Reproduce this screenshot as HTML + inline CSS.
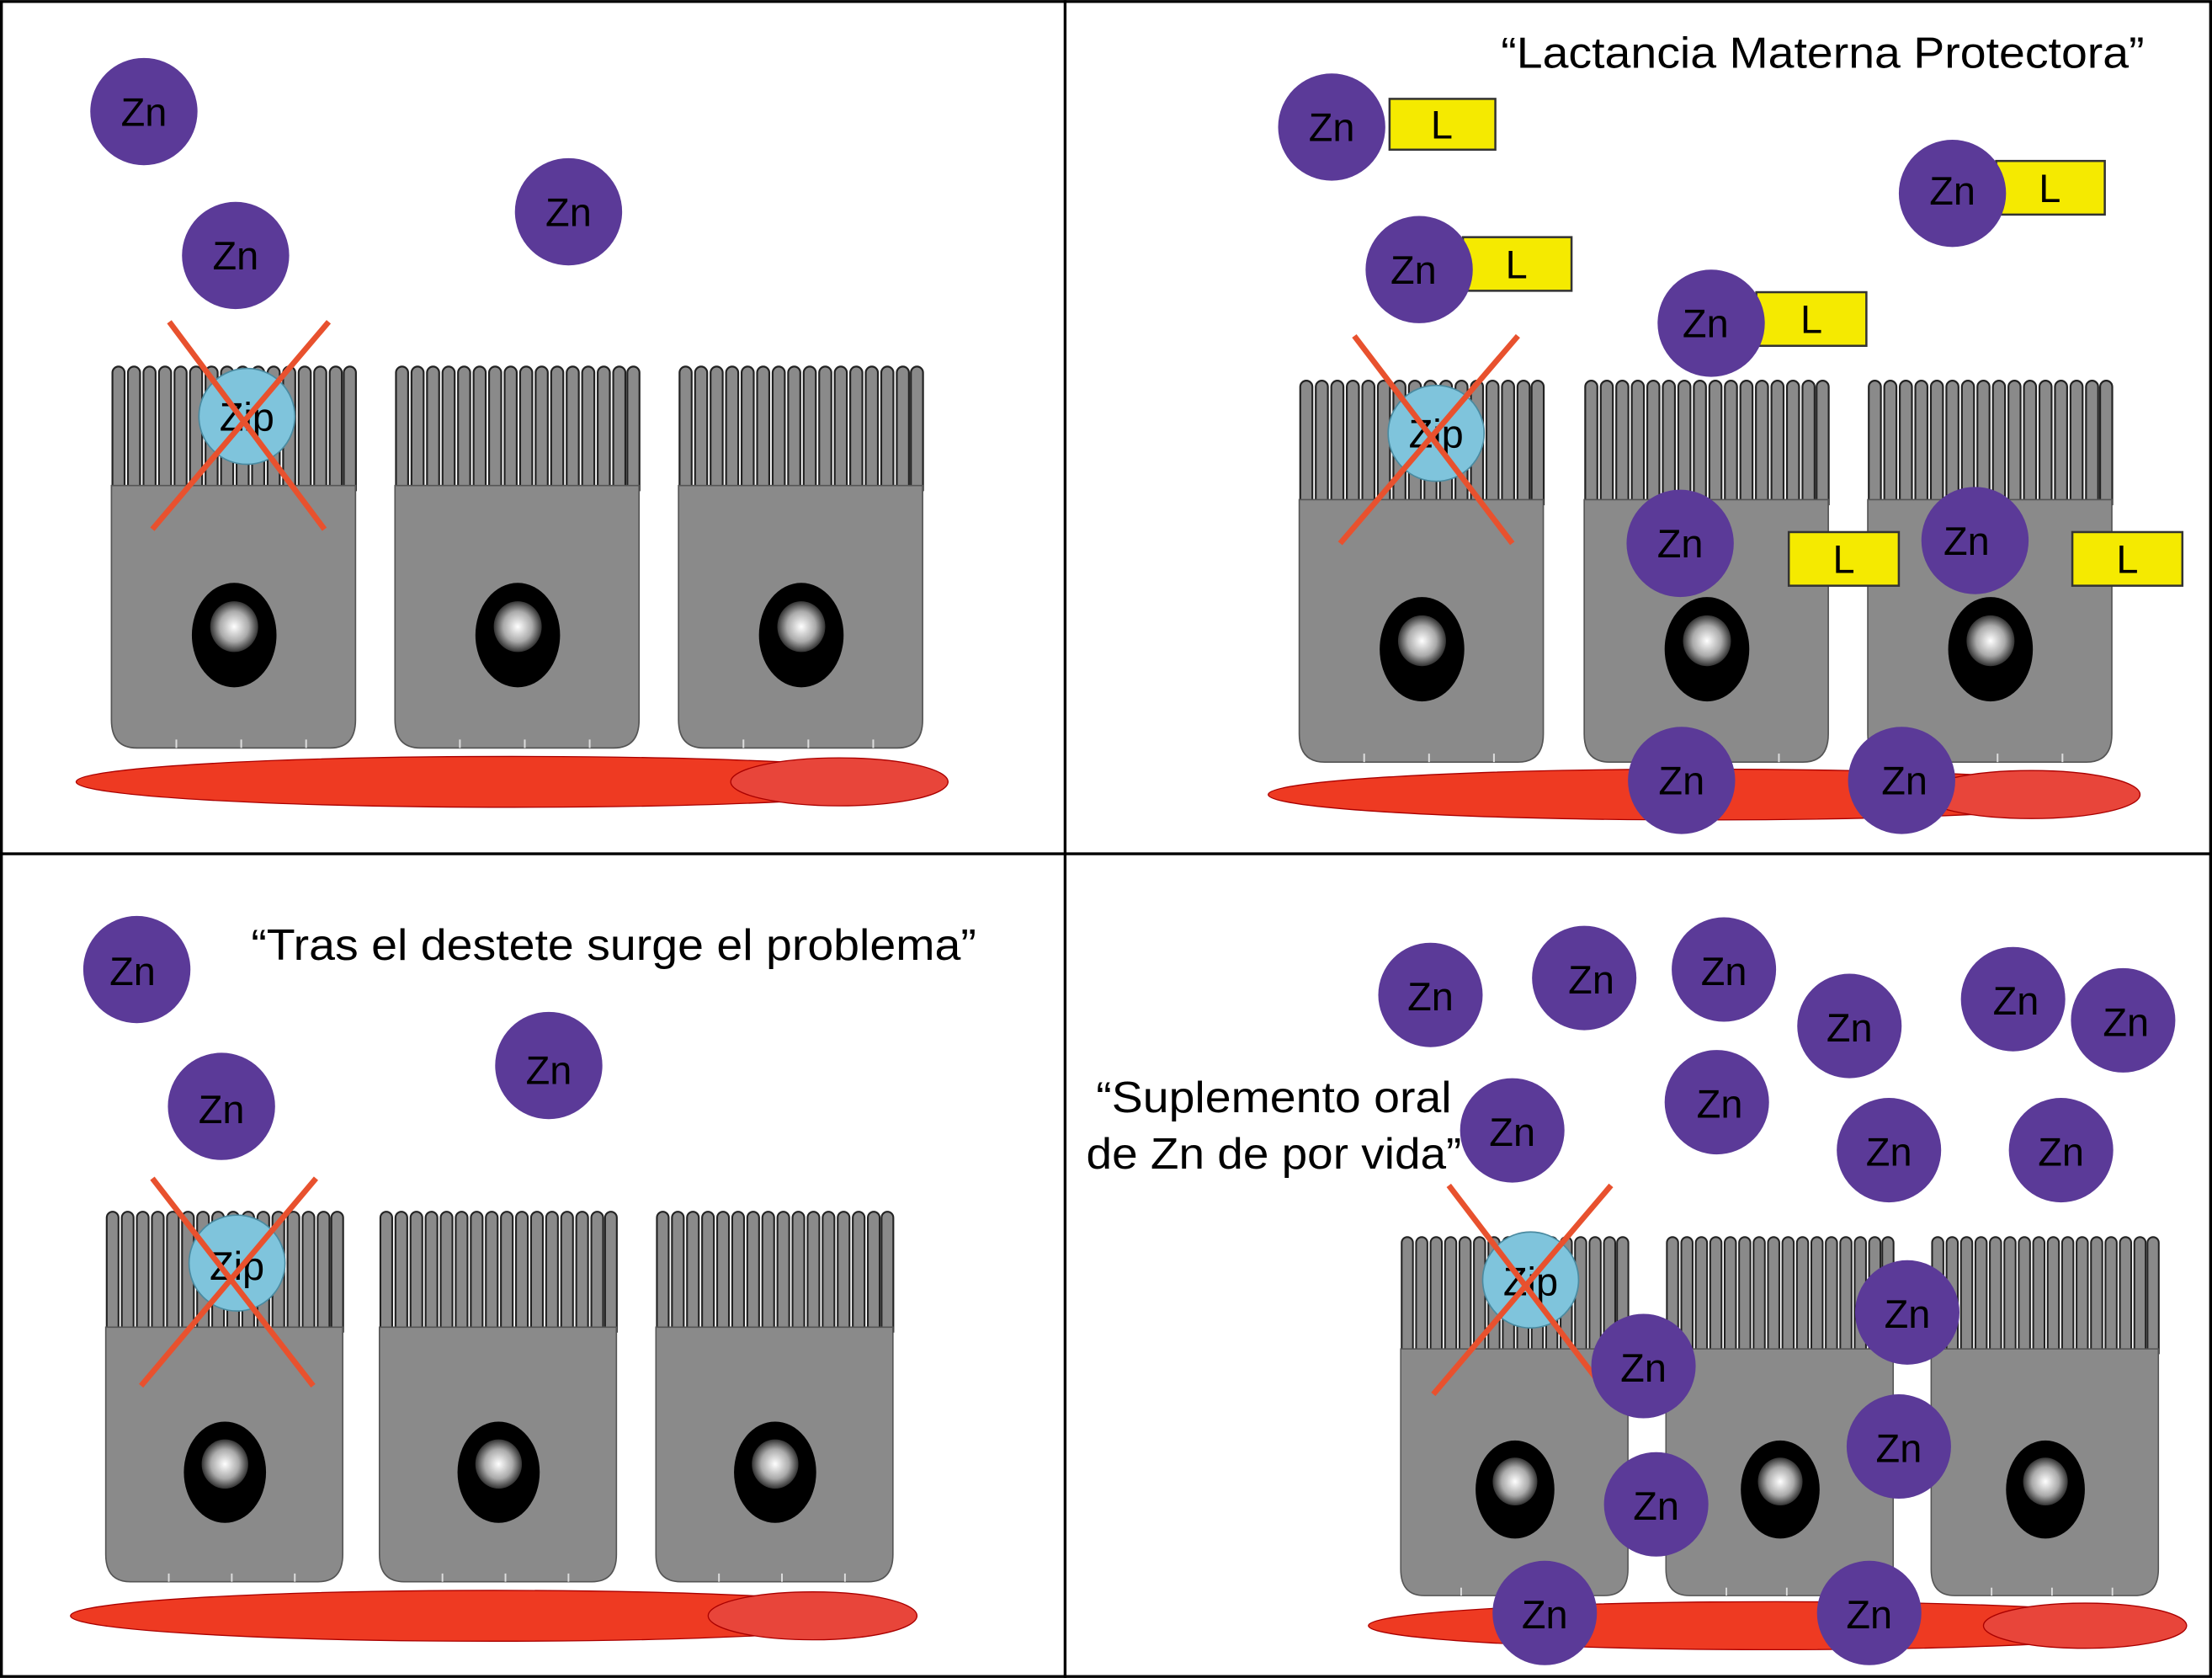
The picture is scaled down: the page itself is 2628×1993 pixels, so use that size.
<!DOCTYPE html>
<html><head><meta charset="utf-8"><style>html,body{margin:0;padding:0;background:#fff}svg{display:block}</style></head>
<body>
<svg width="2628" height="1993" viewBox="0 0 1568 1189" xmlns="http://www.w3.org/2000/svg" font-family="Liberation Sans, sans-serif">
<defs>
<radialGradient id="nuc" cx="0.5" cy="0.5" r="0.5"><stop offset="0" stop-color="#fff"/><stop offset="0.6" stop-color="#aaa"/><stop offset="1" stop-color="#333"/></radialGradient>
<g id="vil"><path d="M-4.3,90 V6 a4.3,4.3 0 0 1 8.6,0 V90" fill="#8a8a8a" stroke="#222" stroke-width="1.3"/></g>
<g id="cell">
<use href="#vil" x="6"/><use href="#vil" x="17"/><use href="#vil" x="28"/><use href="#vil" x="39"/><use href="#vil" x="50"/><use href="#vil" x="61"/><use href="#vil" x="72"/><use href="#vil" x="83"/><use href="#vil" x="94"/><use href="#vil" x="105"/><use href="#vil" x="116"/><use href="#vil" x="127"/><use href="#vil" x="138"/><use href="#vil" x="149"/><use href="#vil" x="160"/><use href="#vil" x="170"/>
<path d="M1,86 H174 V252 Q174,272 156,272 H19 Q1,272 1,252 Z" fill="#8a8a8a" stroke="#555" stroke-width="1"/>
<g stroke="#ddd" stroke-width="1.2"><line x1="47" y1="266" x2="47" y2="272"/><line x1="93" y1="266" x2="93" y2="272"/><line x1="139" y1="266" x2="139" y2="272"/></g>
<ellipse cx="88" cy="192" rx="30" ry="37" fill="#000"/>
<ellipse cx="88" cy="186" rx="17" ry="18" fill="url(#nuc)"/>
</g>
</defs>
<rect x="1" y="1" width="1566" height="1187" fill="#fff" stroke="#000" stroke-width="2"/>
<line x1="755" y1="0" x2="755" y2="1189" stroke="#000" stroke-width="2"/>
<line x1="0" y1="605" x2="1568" y2="605" stroke="#000" stroke-width="2"/>

<g font-size="28" text-anchor="middle">
<!-- TL -->
<use href="#cell" transform="translate(78,258)"/>
<use href="#cell" transform="translate(279,258)"/>
<use href="#cell" transform="translate(480,258)"/>
<ellipse cx="363" cy="554" rx="309" ry="18" fill="#ee3a22" stroke="#a00" stroke-width="0.8"/>
<ellipse cx="595" cy="554" rx="77" ry="17" fill="#e8453a" stroke="#a00" stroke-width="0.8"/>
<circle cx="102" cy="79" r="38" fill="#5b3a98"/><text x="102" y="89">Zn</text>
<circle cx="167" cy="181" r="38" fill="#5b3a98"/><text x="167" y="191">Zn</text>
<circle cx="403" cy="150" r="38" fill="#5b3a98"/><text x="403" y="160">Zn</text>
<circle cx="175" cy="295" r="34" fill="#7fc4dc" stroke="#4a8aa0"/><text x="175" y="305">Zip</text>
<g stroke="#e8512e" stroke-width="4"><line x1="120" y1="228" x2="230" y2="375"/><line x1="233" y1="228" x2="108" y2="375"/></g>

<!-- TR -->
<text x="1292" y="48" font-size="31" textLength="456" lengthAdjust="spacingAndGlyphs">“Lactancia Materna Protectora”</text>
<use href="#cell" transform="translate(920,268)"/>
<use href="#cell" transform="translate(1122,268)"/>
<use href="#cell" transform="translate(1323,268)"/>
<ellipse cx="1207" cy="563" rx="308" ry="18" fill="#ee3a22" stroke="#a00" stroke-width="0.8"/>
<ellipse cx="1440" cy="563" rx="77" ry="17" fill="#e8453a" stroke="#a00" stroke-width="0.8"/>
<circle cx="1018" cy="307" r="34" fill="#7fc4dc" stroke="#4a8aa0"/><text x="1018" y="317">Zip</text>
<g stroke="#e8512e" stroke-width="4"><line x1="960" y1="238" x2="1072" y2="385"/><line x1="1076" y1="238" x2="950" y2="385"/></g>
<g fill="#f5ea00" stroke="#333" stroke-width="1.5">
<rect x="985" y="70" width="75" height="36"/><rect x="1037" y="168" width="77" height="38"/>
<rect x="1415" y="114" width="77" height="38"/><rect x="1245" y="207" width="78" height="38"/>
<rect x="1268" y="377" width="78" height="38"/><rect x="1469" y="377" width="78" height="38"/>
</g>
<text x="1022" y="98">L</text><text x="1075" y="197">L</text><text x="1453" y="143">L</text><text x="1284" y="236">L</text><text x="1307" y="406">L</text><text x="1508" y="406">L</text>
<g fill="#5b3a98">
<circle cx="944" cy="90" r="38"/><circle cx="1006" cy="191" r="38"/><circle cx="1384" cy="137" r="38"/><circle cx="1213" cy="229" r="38"/>
<circle cx="1191" cy="385" r="38"/><circle cx="1400" cy="383" r="38"/><circle cx="1192" cy="553" r="38"/><circle cx="1348" cy="553" r="38"/>
</g>
<text x="944" y="100">Zn</text><text x="1002" y="201">Zn</text><text x="1384" y="145">Zn</text><text x="1209" y="239">Zn</text>
<text x="1191" y="395">Zn</text><text x="1394" y="393">Zn</text><text x="1192" y="563">Zn</text><text x="1350" y="563">Zn</text>

<!-- BL -->
<text x="435" y="680" font-size="31" textLength="514" lengthAdjust="spacingAndGlyphs">“Tras el destete surge el problema”</text>
<use href="#cell" transform="translate(74,857) scale(0.971,0.97)"/>
<use href="#cell" transform="translate(268,857) scale(0.971,0.97)"/>
<use href="#cell" transform="translate(464,857) scale(0.971,0.97)"/>
<ellipse cx="350" cy="1145" rx="300" ry="18" fill="#ee3a22" stroke="#a00" stroke-width="0.8"/>
<ellipse cx="576" cy="1145" rx="74" ry="17" fill="#e8453a" stroke="#a00" stroke-width="0.8"/>
<circle cx="97" cy="687" r="38" fill="#5b3a98"/><text x="94" y="698">Zn</text>
<circle cx="157" cy="784" r="38" fill="#5b3a98"/><text x="157" y="796">Zn</text>
<circle cx="389" cy="755" r="38" fill="#5b3a98"/><text x="389" y="768">Zn</text>
<circle cx="168" cy="895" r="34" fill="#7fc4dc" stroke="#4a8aa0"/><text x="168" y="907">Zip</text>
<g stroke="#e8512e" stroke-width="4"><line x1="108" y1="835" x2="222" y2="982"/><line x1="224" y1="835" x2="100" y2="982"/></g>

<!-- BR -->
<text x="903" y="788" font-size="31" textLength="252" lengthAdjust="spacingAndGlyphs">“Suplemento oral</text>
<text x="903" y="828" font-size="31" textLength="266" lengthAdjust="spacingAndGlyphs">de Zn de por vida”</text>
<use href="#cell" transform="translate(992,875) scale(0.931,0.94)"/>
<use href="#cell" transform="translate(1180,875) scale(0.931,0.94)"/>
<use href="#cell" transform="translate(1368,875) scale(0.931,0.94)"/>
<ellipse cx="1259" cy="1152" rx="289" ry="17" fill="#ee3a22" stroke="#a00" stroke-width="0.8"/>
<ellipse cx="1478" cy="1152" rx="72" ry="16" fill="#e8453a" stroke="#a00" stroke-width="0.8"/>
<circle cx="1085" cy="907" r="34" fill="#7fc4dc" stroke="#4a8aa0"/><text x="1085" y="918">Zip</text>
<g stroke="#e8512e" stroke-width="4"><line x1="1027" y1="840" x2="1140" y2="988"/><line x1="1142" y1="840" x2="1016" y2="988"/></g>
<g fill="#5b3a98">
<circle cx="1014" cy="705" r="37"/><circle cx="1123" cy="693" r="37"/><circle cx="1222" cy="687" r="37"/><circle cx="1311" cy="727" r="37"/>
<circle cx="1427" cy="708" r="37"/><circle cx="1505" cy="723" r="37"/><circle cx="1072" cy="801" r="37"/><circle cx="1217" cy="781" r="37"/>
<circle cx="1339" cy="815" r="37"/><circle cx="1461" cy="815" r="37"/><circle cx="1352" cy="930" r="37"/><circle cx="1165" cy="968" r="37"/>
<circle cx="1346" cy="1025" r="37"/><circle cx="1174" cy="1066" r="37"/><circle cx="1095" cy="1143" r="37"/><circle cx="1325" cy="1143" r="37"/>
</g>
<text x="1014" y="716">Zn</text><text x="1128" y="704">Zn</text><text x="1222" y="698">Zn</text><text x="1311" y="738">Zn</text>
<text x="1429" y="719">Zn</text><text x="1507" y="734">Zn</text><text x="1072" y="812">Zn</text><text x="1219" y="792">Zn</text>
<text x="1339" y="826">Zn</text><text x="1461" y="826">Zn</text><text x="1352" y="941">Zn</text><text x="1165" y="979">Zn</text>
<text x="1346" y="1036">Zn</text><text x="1174" y="1077">Zn</text><text x="1095" y="1154">Zn</text><text x="1325" y="1154">Zn</text>
</g>
</svg>
</body></html>
